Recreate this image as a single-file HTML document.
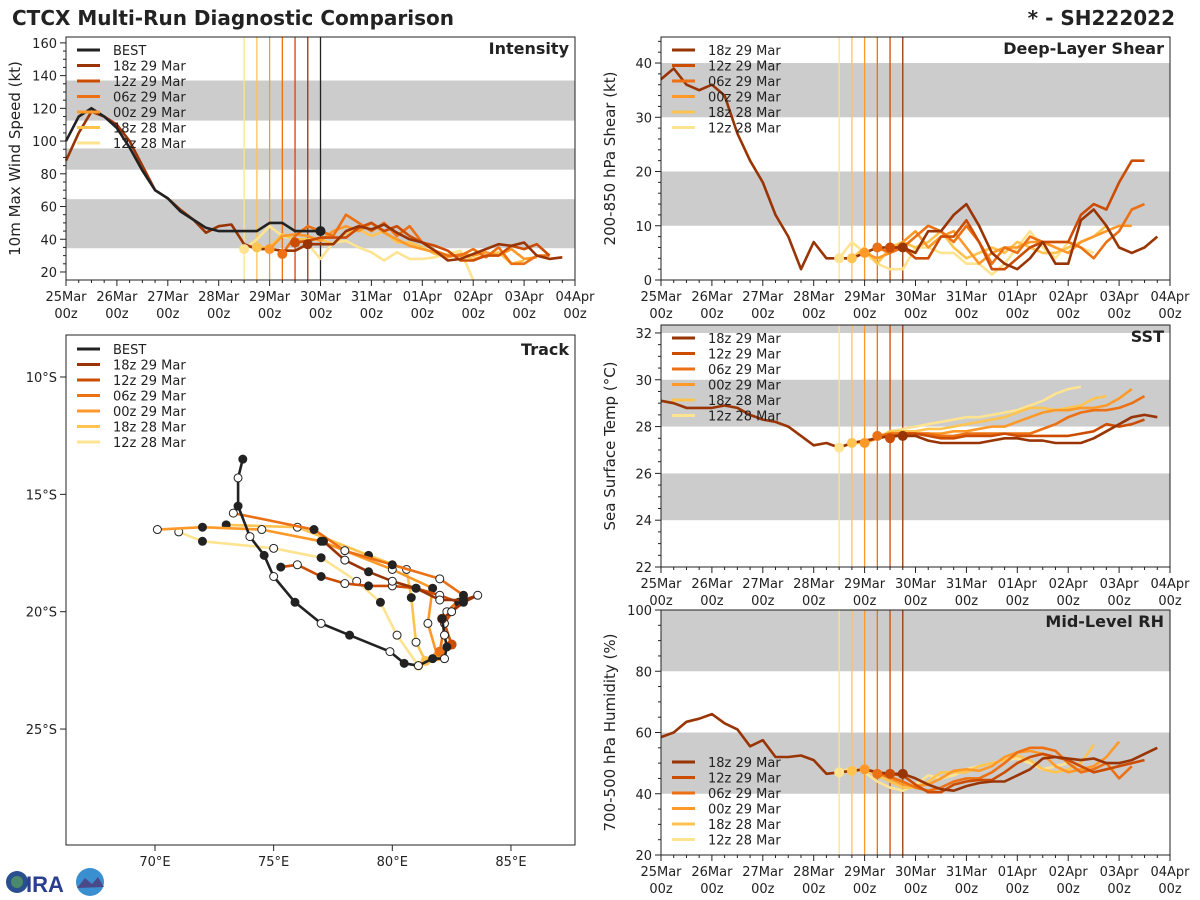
<!DOCTYPE html>
<html><head><meta charset="utf-8">
<style>
body{margin:0;background:#fff;}
svg{display:block;font-family:"DejaVu Sans","Liberation Sans",sans-serif;}
</style></head>
<body>
<svg id="fig" width="1200" height="900" viewBox="0 0 1200 900">
<text x="12" y="25" font-size="20" font-weight="bold" fill="#222">CTCX Multi-Run Diagnostic Comparison</text>
<text x="1175" y="25" font-size="20" font-weight="bold" fill="#222" text-anchor="end">* - SH222022</text>
<g>
<circle cx="17" cy="882" r="11" fill="#2a4f8f"/><circle cx="17" cy="882" r="6" fill="#4a8a6a"/>
<text x="26" y="892" font-size="22" font-weight="bold" fill="#2a3f8f" font-family="Liberation Sans, sans-serif">IRA</text>
<circle cx="90" cy="882" r="14" fill="#3a8fd0"/><path d="M77,888 L85,878 L92,884 L98,877 L104,887 Z" fill="#4a4a8a"/>
</g>
</svg>
<script>
// ---------- data ----------
const runNames = ["18z 29 Mar","12z 29 Mar","06z 29 Mar","00z 29 Mar","18z 28 Mar","12z 28 Mar"];
const runColors = ["#993404","#cc4c02","#ec7014","#fe9929","#fec44f","#fee391"];
const runInitHours = [114,108,102,96,90,84];
const runStartHours = [0,108,102,96,90,84];
const bestColor = "#222222";
const bestCurrentHour = 120;
const dayLabels = ["25Mar","26Mar","27Mar","28Mar","29Mar","30Mar","31Mar","01Apr","02Apr","03Apr","04Apr"];

const bestIntensity = [100,115,120,115,108,96,82,70,65,57,52,47,45,45,45,45,50,50,45,45,45];
const intensity18z29 = [88,105,118,115,110,100,85,70,65,58,52,44,48,49,37,34,34,33,33,37,37,37,45,48,46,49,44,40,38,33,27,28,31,34,37,36,38,30,28,29];
const intensity12z29 = [38,39,41,41,41,47,50,45,48,42,38,36,33,27,27,30,30,36,34,37,30];
const intensity06z29 = [31,42,48,45,42,55,50,45,50,42,48,38,33,30,30,34,29,35,25,25,30,30];
const intensity00z29 = [34,42,43,42,39,45,48,45,50,44,40,36,34,32,29,31,30,32,30,34,28,29];
const intensity18z28 = [35,35,43,40,40,40,37,44,46,42,45,38,38,35,31,30,30,28,30,32,25,27];
const intensity12z28 = [34,40,48,42,40,37,28,38,39,35,32,27,32,28,28,29,31,33,14];

const shear18z29 = [37,39,36,35,36,34,27,22,18,12,8,2,7,4,4,4,5,6,6,6,5,9,9,12,14,10,5,3,2,4,7,3,3,11,13,10,6,5,6,8];
const shear12z29 = [6,6,4,4,8,8,11,7,2,2,4,6,7,7,7,12,14,13,18,22,22];
const shear06z29 = [6,5,6,8,10,9,7,10,7,3,6,5,8,7,7,7,6,4,7,9,13,14];
const shear00z29 = [5,4,5,7,9,6,8,9,6,3,5,6,6,7,7,6,5,7,8,9,10,10];
const shear18z28 = [4,6,3,6,7,6,7,9,6,4,5,6,5,7,6,5,5,6,7,8,10];
const shear12z28 = [4,7,5,3,2,2,6,6,5,5,3,3,1,3,6,9,6,4,7,6,5];

const sst18z29 = [29.1,29.0,28.8,28.8,28.8,28.9,28.8,28.5,28.3,28.2,28.0,27.6,27.2,27.3,27.1,27.3,27.4,27.5,27.6,27.6,27.6,27.4,27.3,27.3,27.3,27.3,27.4,27.5,27.5,27.4,27.4,27.3,27.3,27.3,27.5,27.8,28.1,28.4,28.5,28.4];
const sst12z29 = [27.5,27.7,27.7,27.6,27.5,27.5,27.6,27.6,27.6,27.7,27.6,27.6,27.6,27.6,27.6,27.7,27.8,28.1,28.0,28.1,28.3];
const sst06z29 = [27.6,27.7,27.7,27.7,27.7,27.6,27.6,27.7,27.7,27.7,27.7,27.7,27.7,27.9,28.1,28.4,28.6,28.7,28.7,28.8,29.0,29.3];
const sst00z29 = [27.3,27.5,27.7,27.7,27.7,27.7,27.7,27.8,27.8,27.9,28.0,28.0,28.2,28.4,28.6,28.7,28.7,28.8,28.8,28.9,29.2,29.6];
const sst18z28 = [27.3,27.3,27.5,27.8,27.8,27.8,27.9,27.9,28.0,28.1,28.2,28.3,28.4,28.6,28.8,28.8,28.7,28.8,28.9,29.2,29.3];
const sst12z28 = [27.1,27.3,27.3,27.5,27.8,27.9,28.0,28.1,28.2,28.3,28.4,28.4,28.5,28.6,28.7,28.9,29.1,29.4,29.6,29.7];

const rh18z29 = [58.5,60,63.5,64.5,66,63,61,55.5,57.5,52,52,52.5,51,46.5,47,47.5,48,47,46.5,46.5,45,43,41.5,41,42.5,43.5,44,44,46,48,51.5,52,51.5,51,51.5,50,50,51,53,55];
const rh12z29 = [46.5,46,43,40.5,40.5,43,44,44.5,44.5,47,50,52,53,52,51,49,47,48,49,50,51];
const rh06z29 = [46.5,45.5,44,42,41,42,44,45,45,47,50,53.5,55,55,54,50,47,48,50,45,49];
const rh00z29 = [48,47,45,43,42.5,43,45,47.5,48,47.5,49,52,53.5,54,53,49,47,48,49,52,57];
const rh18z28 = [47.5,48,46,44,42,42,44,47,47,47,49,50,51,52.5,51,48,47,48,50,56];
const rh12z28 = [47,48.5,47,44,42,41,43,46,45,46,48,49,50,51,51.5,50,48,49,50];

const trackBestLon = [73.7,73.5,73.5,74.0,74.6,75.0,75.9,77.0,78.2,79.9,80.5,81.1,81.7,82.2,82.3,82.2,82.1];
const trackBestLat = [13.5,14.3,15.5,16.8,17.6,18.5,19.6,20.5,21.0,21.7,22.2,22.3,22.0,22.0,21.5,21.0,20.3];
const track18z29Lon = [82.1,82.5,83.0,83.6,83.0,82.0,81.0,80.0,79.0,78.0,77.1];
const track18z29Lat = [20.3,20.0,19.6,19.3,19.5,19.5,19.0,18.7,18.3,17.8,17.0];
const track12z29Lon = [82.5,82.2,82.8,82.0,81.0,80.0,79.0,78.0,77.0,76.0,75.3];
const track12z29Lat = [21.4,20.5,19.6,19.3,19.0,18.9,18.9,18.8,18.5,18.0,18.1];
const track06z29Lon = [82.0,82.3,83.0,82.0,80.0,78.0,76.7,73.3];
const track06z29Lat = [21.7,20.0,19.3,18.6,18.0,17.4,16.5,15.8];
const track00z29Lon = [81.9,81.5,81.7,80.0,77.0,74.5,72.0,70.1];
const track00z29Lat = [21.9,20.5,19.0,18.2,17.0,16.5,16.4,16.5];
const track18z28Lon = [81.4,81.0,80.8,80.6,79.0,76.0,73.0];
const track18z28Lat = [22.1,21.3,19.4,18.2,17.6,16.4,16.3];
const track12z28Lon = [81.1,80.2,79.5,78.5,77.0,75.0,72.0,71.0];
const track12z28Lat = [22.3,21.0,19.6,18.7,17.7,17.3,17.0,16.6];

// ---------- drawing ----------
const NS="http://www.w3.org/2000/svg";
const svg=document.getElementById('fig');
function el(tag,attrs,parent){const e=document.createElementNS(NS,tag);for(const k in attrs)e.setAttribute(k,attrs[k]);(parent||svg).appendChild(e);return e;}
function txt(s,attrs,parent){const e=el('text',attrs,parent);e.textContent=s;return e;}

function timePanel(cfg){
  const g=el('g',{});
  
  
  const {x0,x1,y0,y1,vmin,vmax}=cfg;
  const X=h=>x0+h/240*(x1-x0);
  const Y=v=>y1-(v-vmin)/(vmax-vmin)*(y1-y0);
  cfg.bands.forEach(b=>{const r=el('rect',{x:x0,y:Y(Math.min(b[1],vmax)),width:x1-x0,height:Y(b[0])-Y(Math.min(b[1],vmax)),fill:'#cccccc'},g);
    });
  runInitHours.forEach((h,i)=>{const l=el('line',{x1:X(h),x2:X(h),y1:y0,y2:y1,stroke:runColors[i],'stroke-width':1.3},g);
    });
  if(cfg.best){const l=el('line',{x1:X(bestCurrentHour),x2:X(bestCurrentHour),y1:y0,y2:y1,stroke:bestColor,'stroke-width':1.3},g);
    }
  for(let i=5;i>=0;i--){
    const vals=cfg.series[i];const pts=vals.map((v,j)=>X(runStartHours[i]+6*j).toFixed(1)+','+Y(Math.max(v,vmin)).toFixed(1)).join(' ');
    const p=el('polyline',{points:pts,fill:'none',stroke:runColors[i],'stroke-width':2.6,'stroke-linejoin':'round'},g);
    
    
  }
  if(cfg.best){const pts=cfg.best.map((v,j)=>X(6*j)+','+Y(v)).join(' ');
    const p=el('polyline',{points:pts,fill:'none',stroke:bestColor,'stroke-width':2.6},g);
    }
  for(let i=5;i>=0;i--){const k=(runInitHours[i]-runStartHours[i])/6;const v=cfg.series[i][k];
    const c=el('circle',{cx:X(runInitHours[i]),cy:Y(v),r:5,fill:runColors[i]},g);
    }
  if(cfg.best){const c=el('circle',{cx:X(bestCurrentHour),cy:Y(cfg.best[cfg.best.length-1]),r:5,fill:bestColor},g);
    }
  const f=el('rect',{x:x0,y:y0,width:x1-x0,height:y1-y0,fill:'none',stroke:'#222','stroke-width':1},g);
  
  for(let h=0;h<=240;h+=6){const major=h%24===0;el('line',{x1:X(h),x2:X(h),y1:y1,y2:y1+(major?6:3),stroke:'#222','stroke-width':1},g);}
  dayLabels.forEach((d,i)=>{const t=txt(d,{x:X(24*i),y:y1+21,'font-size':13,'text-anchor':'middle',fill:'#222'},g);
    
    const t2=txt('00z',{x:X(24*i),y:y1+38,'font-size':13,'text-anchor':'middle',fill:'#222'},g);
    });
  for(let v=Math.ceil(vmin/cfg.minor)*cfg.minor;v<=vmax+1e-6;v+=cfg.minor){
    const major=Math.abs(v/cfg.major-Math.round(v/cfg.major))<1e-6;
    el('line',{x1:x0,x2:x0-(major?6:3),y1:Y(v),y2:Y(v),stroke:'#222','stroke-width':1},g);
    if(major){const t=txt(String(Math.round(v)),{x:x0-9,y:Y(v)+5,'font-size':13,'text-anchor':'end',fill:'#222'},g);
      }
  }
  const yt=txt(cfg.ylabel,{x:0,y:0,'font-size':15,'text-anchor':'middle',fill:'#222',transform:`translate(${x0-46},${(y0+y1)/2}) rotate(-90)`},g);
  
  const tt=txt(cfg.title,{x:x1-6,y:y0+17,'font-size':16,'font-weight':'bold','text-anchor':'end',fill:'#222'},g);
  
  legend(g,x0+10,cfg.legY,cfg.best?true:false);
}
function legend(g,x,y,withBest){
  const lg=el('g',{},g);
  
  const items=[];if(withBest)items.push(['BEST',bestColor]);runNames.forEach((n,i)=>items.push([n,runColors[i]]));
  items.forEach((it,i)=>{const yy=y+i*15.5;
    const e=el('g',{},lg);
    el('line',{x1:x+1,x2:x+24,y1:yy,y2:yy,stroke:it[1],'stroke-width':3},e);
    txt(it[0],{x:x+37,y:yy+5,'font-size':13,fill:'#222'},e);});
}

timePanel({name:'intensity-panel',x0:66,x1:575,y0:37,y1:280,vmin:15.1,vmax:163.6,major:20,minor:5,
  bands:[[34.5,64.5],[82.5,95.5],[112.5,137]],best:bestIntensity,
  series:[intensity18z29,intensity12z29,intensity06z29,intensity00z29,intensity18z28,intensity12z28],
  ylabel:'10m Max Wind Speed (kt)',title:'Intensity',legY:50});
timePanel({name:'shear-panel',x0:661,x1:1170,y0:37,y1:280,vmin:0,vmax:44.8,major:10,minor:2,
  bands:[[10,20],[30,40]],
  series:[shear18z29,shear12z29,shear06z29,shear00z29,shear18z28,shear12z28],
  ylabel:'200-850 hPa Shear (kt)',title:'Deep-Layer Shear',legY:50});
timePanel({name:'sst-panel',x0:661,x1:1170,y0:325,y1:567,vmin:22,vmax:32.34,major:2,minor:0.5,
  bands:[[24,26],[28,30],[32,32.34]],
  series:[sst18z29,sst12z29,sst06z29,sst00z29,sst18z28,sst12z28],
  ylabel:'Sea Surface Temp (°C)',title:'SST',legY:338});
timePanel({name:'rh-panel',x0:661,x1:1170,y0:610,y1:855,vmin:20,vmax:100,major:20,minor:5,
  bands:[[40,60],[80,100]],
  series:[rh18z29,rh12z29,rh06z29,rh00z29,rh18z28,rh12z28],
  ylabel:'700-500 hPa Humidity (%)',title:'Mid-Level RH',legY:762});

(function(){
  const g=el('g',{});
  
  const x0=66,x1=575,y0=335,y1=845;
  const LX=lon=>155+(lon-70)*23.73;
  const LY=lat=>377+(lat-10)*23.47;
  const tl=[[track18z29Lon,track18z29Lat],[track12z29Lon,track12z29Lat],[track06z29Lon,track06z29Lat],[track00z29Lon,track00z29Lat],[track18z28Lon,track18z28Lat],[track12z28Lon,track12z28Lat]];
  function drawTrack(lons,lats,color,name,startColor){
    const pts=lons.map((l,j)=>LX(l).toFixed(1)+','+LY(lats[j]).toFixed(1)).join(' ');
    const p=el('polyline',{points:pts,fill:'none',stroke:color,'stroke-width':2.6,'stroke-linejoin':'round'},g);
    
    lons.forEach((l,j)=>{
      const c=el('circle',{cx:LX(l),cy:LY(lats[j]),r:j===0&&startColor?5:4,fill:j===0&&startColor?startColor:(j%2?'#fff':'#222'),stroke:j===0&&startColor?'none':'#222','stroke-width':1},g);
      });
  }
  for(let i=5;i>=0;i--)drawTrack(tl[i][0],tl[i][1],runColors[i],'track-'+runNames[i].replace(/ /g,'-').toLowerCase(),runColors[i]);
  drawTrack(trackBestLon.slice().reverse(),trackBestLat.slice().reverse(),bestColor,'track-best',null);
  const f=el('rect',{x:x0,y:y0,width:x1-x0,height:y1-y0,fill:'none',stroke:'#222','stroke-width':1},g);
  
  [70,75,80,85].forEach(l=>{el('line',{x1:LX(l),x2:LX(l),y1:y1,y2:y1+6,stroke:'#222'},g);
    const t=txt(l+'°E',{x:LX(l),y:y1+21,'font-size':13,'text-anchor':'middle',fill:'#222'},g);
    });
  [10,15,20,25].forEach(l=>{el('line',{x1:x0,x2:x0-6,y1:LY(l),y2:LY(l),stroke:'#222'},g);
    const t=txt(l+'°S',{x:x0-9,y:LY(l)+5,'font-size':13,'text-anchor':'end',fill:'#222'},g);
    });
  const tt=txt('Track',{x:x1-6,y:y0+20,'font-size':16,'font-weight':'bold','text-anchor':'end',fill:'#222'},g);
  
  legend(g,x0+10,349,true);
})();
</script>
</body></html>
